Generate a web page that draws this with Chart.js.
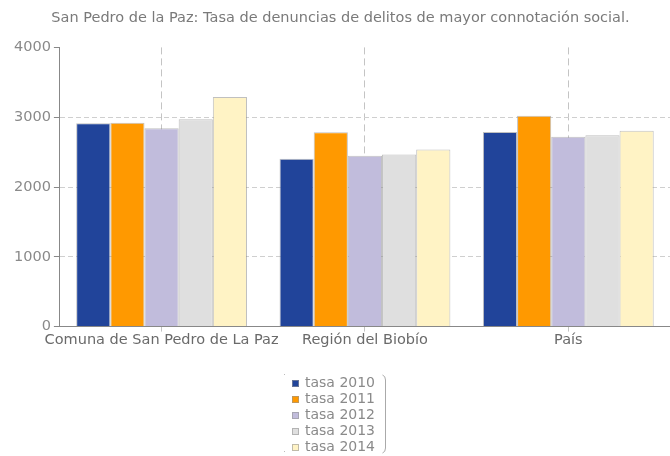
<!DOCTYPE html>
<html>
<head>
<meta charset="utf-8">
<script src="https://cdn.jsdelivr.net/npm/chart.js@4/dist/chart.umd.min.js"></script>
<style>
  html, body { margin: 0; padding: 0; background: #fff; }
  #wrap { width: 670px; height: 456px; }
</style>
</head>
<body>
<div id="wrap"><canvas id="tasa_chart"></canvas></div>
<script>
var categories = ["Comuna de San Pedro de La Paz", "Región del Biobío", "País"];
var seriesNames = ["tasa 2010", "tasa 2011", "tasa 2012", "tasa 2013", "tasa 2014"];
var tasa2010 = [2913, 2403, 2788];
var tasa2011 = [2922, 2784, 3019];
var tasa2012 = [2841, 2446, 2720];
var tasa2013 = [2971, 2466, 2740];
var tasa2014 = [3289, 2538, 2807];
var yTicks = [0, 1000, 2000, 3000, 4000];

var colors = ["#21449a", "#ff9900", "#c1bcdc", "#dfdfdf", "#fff3c5"];
var values = [tasa2010, tasa2011, tasa2012, tasa2013, tasa2014];

var font = "'DejaVu Sans', Verdana, sans-serif";

var datasets = [];
seriesNames.forEach(function(name, i) {
    datasets.push({
        label: name,
        data: values[i],
        backgroundColor: colors[i],
        borderColor: "rgba(140,140,140,0.55)",
        borderWidth: 1,
        borderSkipped: "bottom",
        barPercentage: 1.0,
        categoryPercentage: 0.84
    });
});

// vertical legend under the plot, like the original
var boxLegend = {
    id: "boxLegend",
    afterDraw: function(chart) {
        var ctx = chart.ctx;
        var x0 = 292, y0 = 383, step = 16;
        ctx.save();
        ctx.font = "14px " + font;
        ctx.textBaseline = "middle";
        chart.data.datasets.forEach(function(ds, i) {
            var y = y0 + i * step;
            ctx.fillStyle = ds.backgroundColor;
            ctx.fillRect(x0, y - 3, 7, 7);
            ctx.strokeStyle = "rgba(150,150,150,0.6)";
            ctx.lineWidth = 1;
            ctx.strokeRect(x0 + 0.5, y - 2.5, 6, 6);
            ctx.fillStyle = "#8a8a8a";
            ctx.fillText(ds.label, 305, y);
        });
        ctx.strokeStyle = "#aaa";
        ctx.beginPath();
        ctx.moveTo(382.5, 375);
        ctx.quadraticCurveTo(385.5, 376, 385.5, 380);
        ctx.lineTo(385.5, 448);
        ctx.quadraticCurveTo(385.5, 452, 382.5, 453);
        ctx.stroke();
        ctx.fillStyle = "#bbb";
        ctx.fillRect(284, 374, 1, 1);
        ctx.fillRect(284, 451, 1, 1);
        ctx.restore();
    }
};

var ctx = document.getElementById("tasa_chart");
var chart = new Chart(ctx, {
    type: "bar",
    data: { labels: categories, datasets: datasets },
    plugins: [boxLegend],
    options: {
        responsive: true,
        maintainAspectRatio: false,
        animation: false,
        layout: { padding: { left: 11, right: 0, top: 0, bottom: 107 } },
        plugins: {
            legend: { display: false },
            tooltip: { enabled: false },
            title: {
                display: true,
                text: "San Pedro de la Paz: Tasa de denuncias de delitos de mayor connotación social.",
                color: "#7a7a7a",
                font: { family: font, size: 14.5, weight: "normal" },
                padding: { top: 10, bottom: 20 }
            }
        },
        scales: {
            x: {
                offset: true,
                grid: {
                    offset: false,
                    color: "#c4c4c4",
                    tickColor: "#c4c4c4",
                    tickBorderDash: [7, 4],
                    tickLength: 5
                },
                border: { color: "#888", width: 1, dash: [7, 4] },
                ticks: {
                    color: "#6a6a6a",
                    font: { family: font, size: 14.5 },
                    padding: 0,
                    maxRotation: 0,
                    autoSkip: false
                }
            },
            y: {
                min: 0,
                max: 4000,
                afterBuildTicks: function(axis) {
                    axis.ticks = yTicks.map(function(v) { return { value: v }; });
                },
                grid: {
                    color: function(c) {
                        return (c.tick && (c.tick.value === 4000 || c.tick.value === 0)) ? "rgba(0,0,0,0)" : "#cfcfcf";
                    },
                    tickColor: "#888",
                    tickBorderDash: [],
                    tickLength: 6
                },
                border: { color: "#888", width: 1, dash: [5, 3] },
                ticks: {
                    color: "#8a8a8a",
                    font: { family: font, size: 14.5 },
                    padding: 3,
                    callback: function(v) { return String(v); }
                }
            }
        }
    }
});
</script>
</body>
</html>
